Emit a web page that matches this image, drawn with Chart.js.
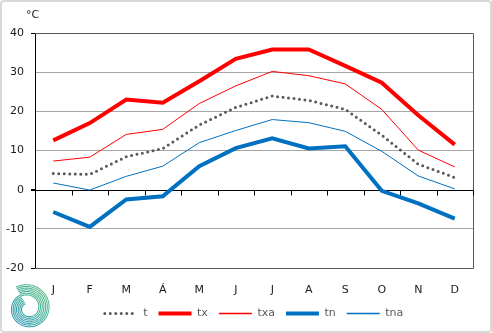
<!DOCTYPE html>
<html>
<head>
<meta charset="utf-8">
<script src="https://cdn.jsdelivr.net/npm/chart.js@4/dist/chart.umd.min.js"></script>
<style>
  body { margin: 0; background: #fff; }
  #wrap { width: 492px; height: 333px; position: relative; }
</style>
</head>
<body>
<div id="wrap"><canvas id="climateChart"></canvas></div>
<script>
// Monthly temperatures (°C)
const months = ['J', 'F', 'M', 'Á', 'M', 'J', 'J', 'A', 'S', 'O', 'N', 'D'];
const t   = [4.1, 3.9, 8.4, 10.5, 16.5, 21.0, 23.9, 22.8, 20.5, 13.9, 6.5, 3.1];
const tx  = [12.6, 17.0, 23.0, 22.2, 27.7, 33.4, 35.8, 35.8, 31.6, 27.3, 19.0, 11.5];
const txa = [7.3, 8.3, 14.1, 15.4, 22.0, 26.5, 30.2, 29.1, 27.0, 20.5, 10.1, 5.8];
const tn  = [-5.7, -9.5, -2.5, -1.7, 6.0, 10.6, 13.1, 10.5, 11.1, -0.3, -3.5, -7.4];
const tna = [1.7, -0.1, 3.4, 6.0, 12.0, 15.1, 17.9, 17.1, 14.9, 9.8, 3.5, 0.2];
const yTicks = [-20, -10, 0, 10, 20, 30, 40];

const FONT = 'DejaVu Sans';
const RED = '#ff0000';
const BLUE = '#0070c0';

// frame, zero line ticks, unit label, outer border, logo
const decorations = {
    id: 'decorations',
    beforeDraw(chart) {
        const ctx = chart.ctx;
        ctx.save();
        ctx.strokeStyle = '#d9d9d9';
        ctx.lineWidth = 2;
        ctx.beginPath();
        ctx.roundRect(1, 1, chart.width - 2, chart.height - 2, 3);
        ctx.stroke();
        ctx.restore();
    },
    beforeDatasetsDraw(chart) {
        const ctx = chart.ctx;
        const a = chart.chartArea;
        const y0 = Math.round(chart.scales.y.getPixelForValue(0)) + 0.5;
        ctx.save();
        // frame on top / right / bottom
        ctx.strokeStyle = '#595959';
        ctx.lineWidth = 1;
        ctx.beginPath();
        ctx.moveTo(Math.round(a.left), Math.round(a.top) + 0.5);
        ctx.lineTo(Math.round(a.right) + 0.5, Math.round(a.top) + 0.5);
        ctx.lineTo(Math.round(a.right) + 0.5, Math.round(a.bottom) + 0.5);
        ctx.lineTo(Math.round(a.left), Math.round(a.bottom) + 0.5);
        ctx.stroke();
        // zero line with tick marks between months
        ctx.strokeStyle = '#000';
        ctx.beginPath();
        ctx.moveTo(a.left - 4, y0);
        ctx.lineTo(a.right, y0);
        const step = (a.right - a.left) / months.length;
        for (let i = 0; i <= months.length; i++) {
            const px = Math.round(a.left + i * step) + 0.5;
            ctx.moveTo(px, y0);
            ctx.lineTo(px, y0 + 5);
        }
        ctx.stroke();
        // unit
        ctx.fillStyle = '#1a1a1a';
        ctx.font = '11px ' + FONT;
        ctx.textBaseline = 'middle';
        ctx.fillText('°C', 26, 15);
        ctx.restore();
    },
    afterDraw(chart) {
        // small spiral logo, bottom left
        const ctx = chart.ctx;
        const cx = 28, cy = 308;
        ctx.save();
        const g = ctx.createLinearGradient(50, 285, 6, 332);
        g.addColorStop(0, '#7ccc8a');
        g.addColorStop(0.45, '#3fae9c');
        g.addColorStop(1, '#2a86c4');
        ctx.strokeStyle = g;
        ctx.lineWidth = 1.1;
        const a0 = -2.1;
        for (let j = 0; j < 7; j++) {
            ctx.beginPath();
            for (let k = 0; k <= 120; k++) {
                const th = a0 + (k / 120) * Math.PI * 2;
                const r = 24 - j * 1.7 - 9 * (th - a0) / (Math.PI * 2);
                const px = cx + r * Math.cos(th), py = cy + r * Math.sin(th);
                if (k === 0) ctx.moveTo(px, py); else ctx.lineTo(px, py);
            }
            ctx.stroke();
        }
        ctx.restore();
    }
};

const ctx = document.getElementById('climateChart').getContext('2d');

new Chart(ctx, {
    type: 'line',
    data: {
        labels: months,
        datasets: [
            { label: 't', data: t, borderColor: '#595959', borderWidth: 3, borderDash: [0, 5.5], borderCapStyle: 'round' },
            { label: 'tx', data: tx, borderColor: RED, borderWidth: 4 },
            { label: 'txa', data: txa, borderColor: RED, borderWidth: 1 },
            { label: 'tn', data: tn, borderColor: BLUE, borderWidth: 4 },
            { label: 'tna', data: tna, borderColor: BLUE, borderWidth: 1 }
        ]
    },
    options: {
        responsive: true,
        maintainAspectRatio: false,
        animation: false,
        layout: {
            padding: { left: 0, top: 33, right: 19, bottom: 4 }
        },
        elements: {
            point: { radius: 0, hoverRadius: 0 },
            line: { tension: 0, fill: false }
        },
        plugins: {
            legend: {
                position: 'bottom',
                fullSize: false,
                labels: {
                    usePointStyle: true,
                    pointStyle: 'line',
                    pointStyleWidth: 33,
                    padding: 11,
                    color: '#595959',
                    font: { family: FONT, size: 11 },
                    generateLabels: function(chart) {
                        return chart.data.datasets.map((ds, i) => ({
                            text: ds.label,
                            datasetIndex: i,
                            strokeStyle: ds.borderColor,
                            fillStyle: 'rgba(0,0,0,0)',
                            lineWidth: Math.max(ds.borderWidth, 1.3),
                            lineDash: ds.borderDash || [],
                            lineCap: ds.borderCapStyle || 'butt',
                            pointStyle: 'line',
                            fontColor: '#595959',
                            hidden: false
                        }));
                    }
                }
            },
            tooltip: { enabled: false }
        },
        scales: {
            x: {
                offset: true,
                grid: { display: false },
                border: { display: false },
                afterFit: function(scale) {
                    scale.height = 29;
                },
                ticks: {
                    color: '#1a1a1a',
                    padding: 8,
                    font: { family: FONT, size: 11 }
                }
            },
            y: {
                min: -20,
                max: 40,
                afterFit: function(scale) {
                    scale.width = 35;
                },
                afterBuildTicks: function(scale) {
                    scale.ticks = yTicks.map(v => ({ value: v }));
                },
                grid: {
                    tickLength: 4,
                    color: function(c) {
                        const v = c.tick.value;
                        if (v === 0) return 'rgba(0,0,0,0)';
                        if (v === -20 || v === 40) return '#595959';
                        return '#a6a6a6';
                    },
                    tickColor: function(c) {
                        const v = c.tick.value;
                        return (v === -20 || v === 40 || v === 0) ? '#000' : 'rgba(0,0,0,0)';
                    }
                },
                border: { color: '#000' },
                ticks: {
                    color: '#1a1a1a',
                    padding: 7,
                    font: { family: FONT, size: 11 }
                }
            }
        }
    },
    plugins: [decorations]
});
</script>
</body>
</html>
